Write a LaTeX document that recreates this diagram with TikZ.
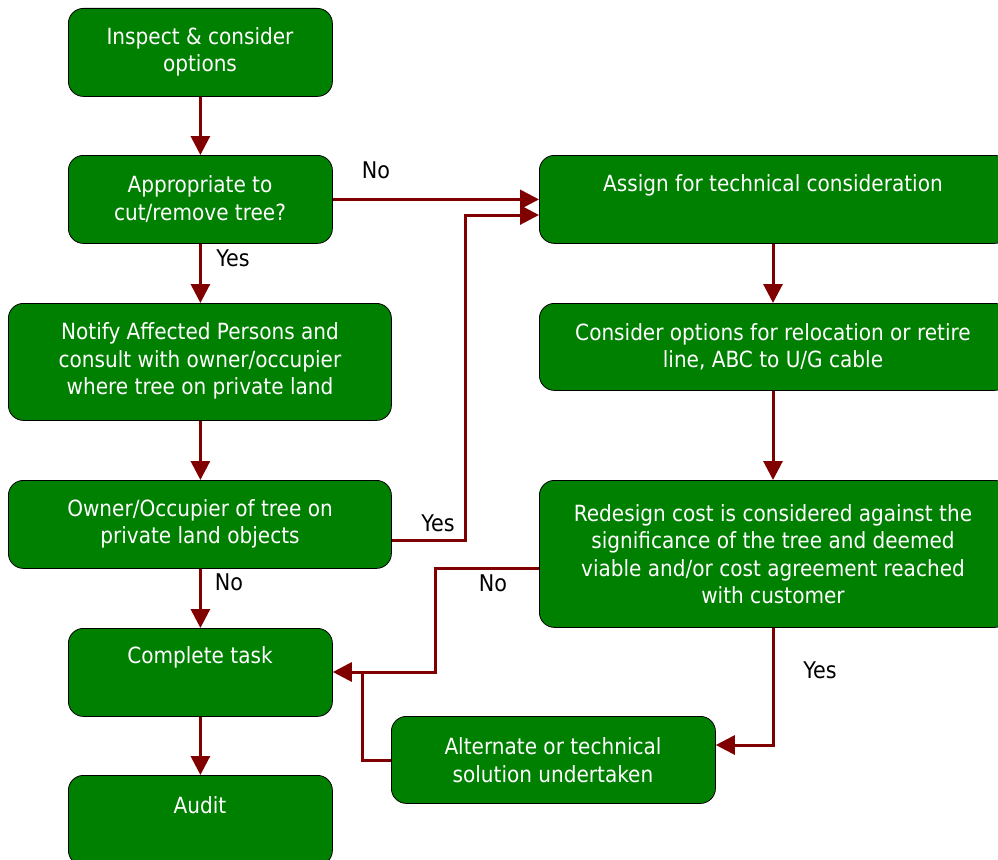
\documentclass[tikz,border=0pt]{standalone}
\usepackage{fontspec}
\setmainfont{DejaVu Sans Condensed}
\usetikzlibrary{arrows.meta}
\definecolor{boxgreen}{HTML}{008000}
\definecolor{arrred}{HTML}{800000}
\tikzset{
  box/.style={draw=black, line width=0.8pt, fill=boxgreen, rounded corners=15pt, anchor=north west, inner sep=0pt},
  txt/.style={text=white, font=\fontsize{22.3}{27.5}\selectfont, align=center, inner sep=0pt},
  lbl/.style={text=black, font=\fontsize{23}{24}\selectfont, inner sep=0pt},
  conn/.style={draw=arrred, line width=3pt, -{Triangle[length=19pt,width=19pt]}},
  plain/.style={draw=arrred, line width=3pt},
}
\begin{document}
\begin{tikzpicture}[x=1pt,y=-1pt]
\useasboundingbox (0,0) rectangle (998,859);
% boxes
\node[box, minimum width=264pt, minimum height=88pt] (b1) at (68,8) {};
\node[box, minimum width=264pt, minimum height=88pt] (b2) at (68,155) {};
\node[box, minimum width=383pt, minimum height=117pt] (b3) at (8,303) {};
\node[box, minimum width=383pt, minimum height=88pt] (b4) at (8,480) {};
\node[box, minimum width=264pt, minimum height=88pt] (b5) at (68,628) {};
\node[box, minimum width=264pt, minimum height=90pt] (b6) at (68,775) {};
\node[box, minimum width=470pt, minimum height=88pt] (b7) at (539,155) {};
\node[box, minimum width=470pt, minimum height=87pt] (b8) at (539,303) {};
\node[box, minimum width=470pt, minimum height=147pt] (b9) at (539,480) {};
\node[box, minimum width=324pt, minimum height=87pt] (b10) at (391,716) {};
% texts
\node[txt] (t1) at (200,52) {Inspect \& consider\\options};
\node[txt] (t2) at (200,199) {Appropriate to\\cut/remove tree?};
\node[txt] (t3) at (200,361) {Notify Affected Persons and\\consult with owner/occupier\\where tree on private land};
\node[txt] (t4) at (200,524) {Owner/Occupier of tree on\\private land objects};
\node[txt] (t5) at (200,657) {Complete task};
\node[txt] (t6) at (200,805) {Audit};
\node[txt] (t7) at (773,185) {Assign for technical consideration};
\node[txt] (t8) at (773,347) {Consider options for relocation or retire\\line, ABC to U/G cable};
\node[txt] (t9) at (773,554) {Redesign cost is considered against the\\significance of the tree and deemed\\viable and/or cost agreement reached\\with customer};
\node[txt] (t10) at (553,760) {Alternate or technical\\solution undertaken};
% labels
\node[lbl] (l1) at (376,170) {No};
\node[lbl] (l2) at (233,258) {Yes};
\node[lbl] (l3) at (438,523) {Yes};
\node[lbl] (l4) at (229,582) {No};
\node[lbl] (l5) at (493,583) {No};
\node[lbl] (l6) at (820,670) {Yes};
% helper coordinates
\coordinate (c1) at (465,540);
\coordinate (c2) at (465,215);
\coordinate (c3) at (435,568);
\coordinate (c4) at (435,672);
\coordinate (c5) at (773,745);
\coordinate (c6) at (362,760);
\coordinate (c7) at (362,672);
% connectors
\draw[conn] (b1.south) -- (b2.north);
\draw[conn] (b2.east) -- (b2.east -| b7.west);
\draw[conn] (b2.south) -- (b3.north -| b2.south);
\draw[conn] (b3.south -| b2.south) -- (b4.north -| b2.south);
\draw[conn] (b4.south -| b2.south) -- (b5.north);
\draw[conn] (b5.south) -- (b6.north);
\draw[conn] (b4.east |- c1) -- (c1) -- (c2) -- (c2 -| b7.west);
\draw[conn] (b7.south -| c5) -- (b8.north -| c5);
\draw[conn] (b8.south -| c5) -- (b9.north -| c5);
\draw[conn] (b9.west |- c3) -- (c3) -- (c4) -- (c4 -| b5.east);
\draw[conn] (b9.south -| c5) -- (c5) -- (c5 -| b10.east);
\draw[plain] (b10.west |- c6) -- (c6) -- (c7);
\end{tikzpicture}
\end{document}
